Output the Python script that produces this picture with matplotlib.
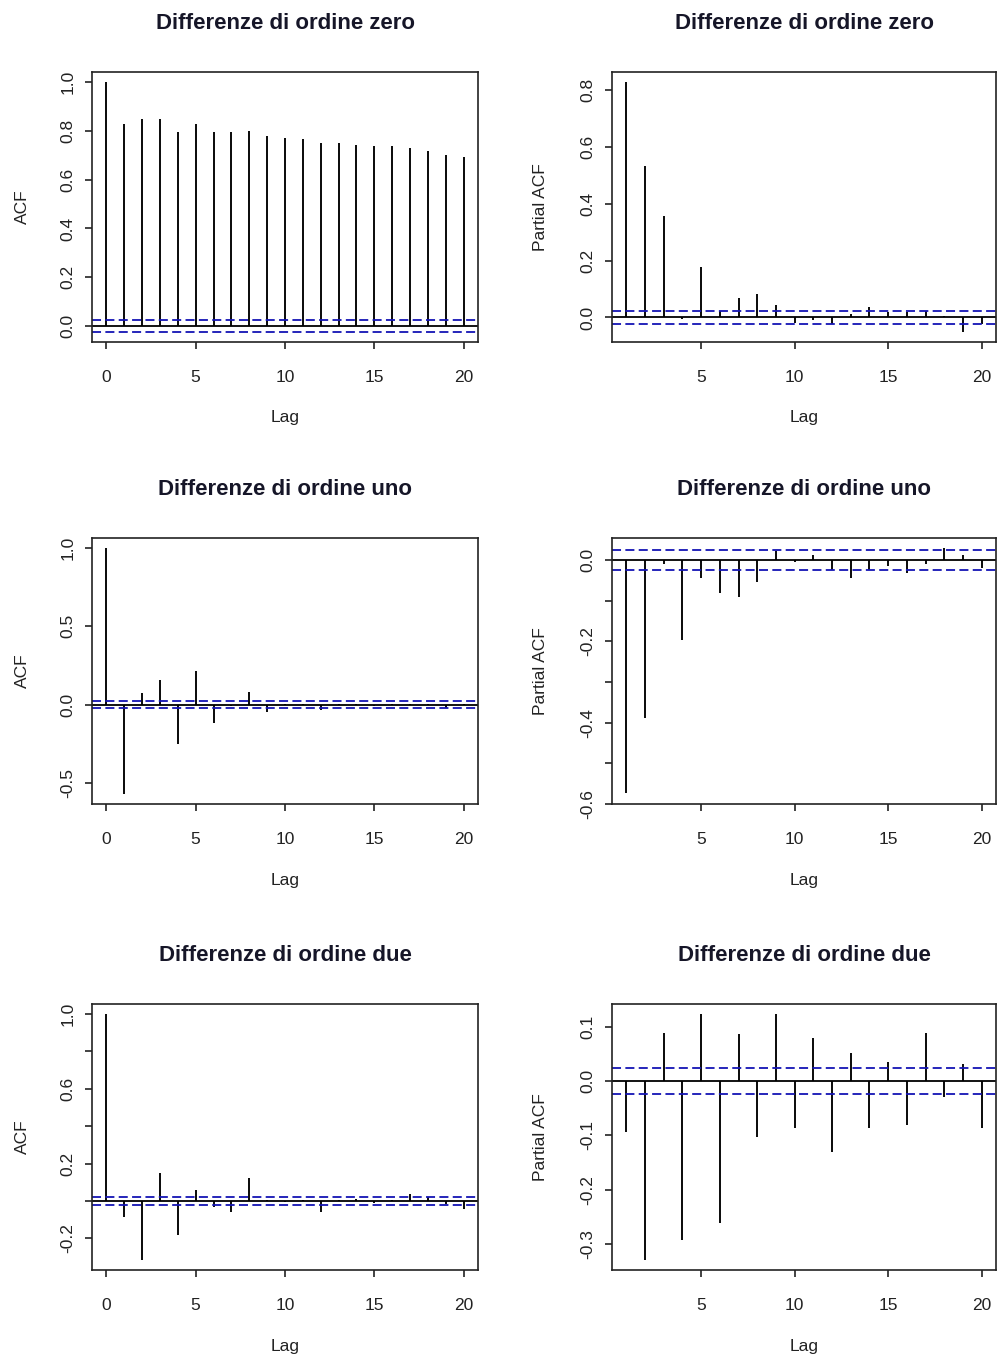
import numpy as np
import matplotlib
matplotlib.use('Agg')
import matplotlib.pyplot as plt

plt.rcParams['font.family'] = ['Liberation Sans', 'DejaVu Sans']

# Lags
lags_acf = list(range(0, 21))
lags_pacf = list(range(1, 21))

# Differenze di ordine zero
acf_zero = [1.0, 0.828, 0.849, 0.849, 0.794, 0.828, 0.794, 0.794, 0.801, 0.779, 0.772,
            0.765, 0.751, 0.751, 0.744, 0.737, 0.737, 0.729, 0.716, 0.701, 0.694]
pacf_zero = [0.827, 0.531, 0.355, -0.006, 0.177, 0.024, 0.068, 0.081, 0.044, -0.021,
             -0.008, -0.024, 0.012, 0.036, 0.020, 0.020, 0.024, 0.005, -0.051, -0.024]

# Differenze di ordine uno
acf_uno = [1.0, -0.572, 0.071, 0.156, -0.255, 0.214, -0.116, -0.010, 0.081, -0.047, 0.005,
           0.004, -0.032, 0.003, 0.004, -0.010, 0.003, 0.004, 0.003, -0.020, 0.004]
pacf_uno = [-0.572, -0.389, -0.011, -0.196, -0.044, -0.082, -0.091, -0.054, 0.021, -0.005,
            0.013, -0.025, -0.044, -0.025, -0.014, -0.031, -0.011, 0.030, 0.013, -0.019]

# Differenze di ordine due
acf_due = [1.0, -0.088, -0.316, 0.148, -0.179, 0.059, -0.030, -0.061, 0.121, 0.005, -0.005,
           0.003, -0.061, 0.003, 0.010, -0.008, 0.003, 0.039, 0.021, -0.015, -0.041]
pacf_due = [-0.094, -0.330, 0.089, -0.293, 0.124, -0.261, 0.086, -0.103, 0.124, -0.087,
            0.080, -0.131, 0.051, -0.087, 0.036, -0.081, 0.089, -0.030, 0.032, -0.087]

clim = 0.024

titles = ['Differenze di ordine zero', 'Differenze di ordine uno', 'Differenze di ordine due']

# y ticks per panel (ticks, labels)
yticks_acf = [
    ([0.0, 0.2, 0.4, 0.6, 0.8, 1.0], ['0.0', '0.2', '0.4', '0.6', '0.8', '1.0']),
    ([-0.5, 0.0, 0.5, 1.0], ['-0.5', '0.0', '0.5', '1.0']),
    ([-0.2, 0.0, 0.2, 0.4, 0.6, 0.8, 1.0], ['-0.2', '', '0.2', '', '0.6', '', '1.0']),
]
yticks_pacf = [
    ([0.0, 0.2, 0.4, 0.6, 0.8], ['0.0', '0.2', '0.4', '0.6', '0.8']),
    ([-0.6, -0.5, -0.4, -0.3, -0.2, -0.1, 0.0], ['-0.6', '', '-0.4', '', '-0.2', '', '0.0']),
    ([-0.3, -0.2, -0.1, 0.0, 0.1], ['-0.3', '-0.2', '-0.1', '0.0', '0.1']),
]

W, H = 997, 1362
fig = plt.figure(figsize=(W / 100, H / 100), dpi=100)
fig.patch.set_facecolor('white')

col_x = [(92, 478), (612, 996)]
row_y = [(72, 342), (538, 804), (1004, 1270)]

dash_blue = '#1414b4'
txt_col = '#222222'


def draw_panel(ax, lags, vals, ylab, ticks, xt, title):
    vals = np.array(vals)
    lags = np.array(lags)
    ax.vlines(lags, 0, vals, color='black', lw=1.35)
    ax.axhline(0, color='black', lw=1.3)
    for c in (clim, -clim):
        ax.axhline(c, color=dash_blue, lw=1.3, ls=(0, (5, 2.4)))
    # R style ranges with 4% expansion
    x0, x1 = lags.min(), lags.max()
    dx = (x1 - x0) * 0.04
    ax.set_xlim(x0 - dx, x1 + dx)
    y0, y1 = min(vals.min(), -clim), max(vals.max(), clim)
    dy = (y1 - y0) * 0.04
    ax.set_ylim(y0 - dy, y1 + dy)
    ax.set_xticks(xt)
    ax.set_xticklabels([str(t) for t in xt])
    ax.set_yticks(ticks[0])
    ax.set_yticklabels(ticks[1], rotation=90, va='center')
    ax.tick_params(axis='both', length=5, width=1.2, labelsize=12.5, colors=txt_col)
    ax.tick_params(axis='x', pad=15)
    ax.tick_params(axis='y', pad=7)
    for s in ax.spines.values():
        s.set_linewidth(1.2)
        s.set_color('#222222')
    ax.set_title(title, fontsize=16, fontweight='bold', color='#161628', pad=31)
    ax.set_xlabel('Lag', fontsize=12.5, color=txt_col, va='center')
    ax.set_ylabel(ylab, fontsize=12.5, color=txt_col, va='center')


series_acf = [acf_zero, acf_uno, acf_due]
series_pacf = [pacf_zero, pacf_uno, pacf_due]

for r in range(3):
    ytop, ybot = row_y[r]
    for c in range(2):
        xl, xr = col_x[c]
        ax = fig.add_axes([xl / W, 1 - ybot / H, (xr - xl) / W, (ybot - ytop) / H])
        if c == 0:
            draw_panel(ax, lags_acf, series_acf[r], 'ACF', yticks_acf[r], [0, 5, 10, 15, 20], titles[r])
            ax.yaxis.set_label_coords((22 - xl) / (xr - xl), 0.5)
        else:
            draw_panel(ax, lags_pacf, series_pacf[r], 'Partial ACF', yticks_pacf[r], [5, 10, 15, 20], titles[r])
            ax.yaxis.set_label_coords((540 - xl) / (xr - xl), 0.5)
        ax.xaxis.set_label_coords(0.5, -(418 - 342) / (ybot - ytop))

fig.savefig('out.png', dpi=100, facecolor='white')
